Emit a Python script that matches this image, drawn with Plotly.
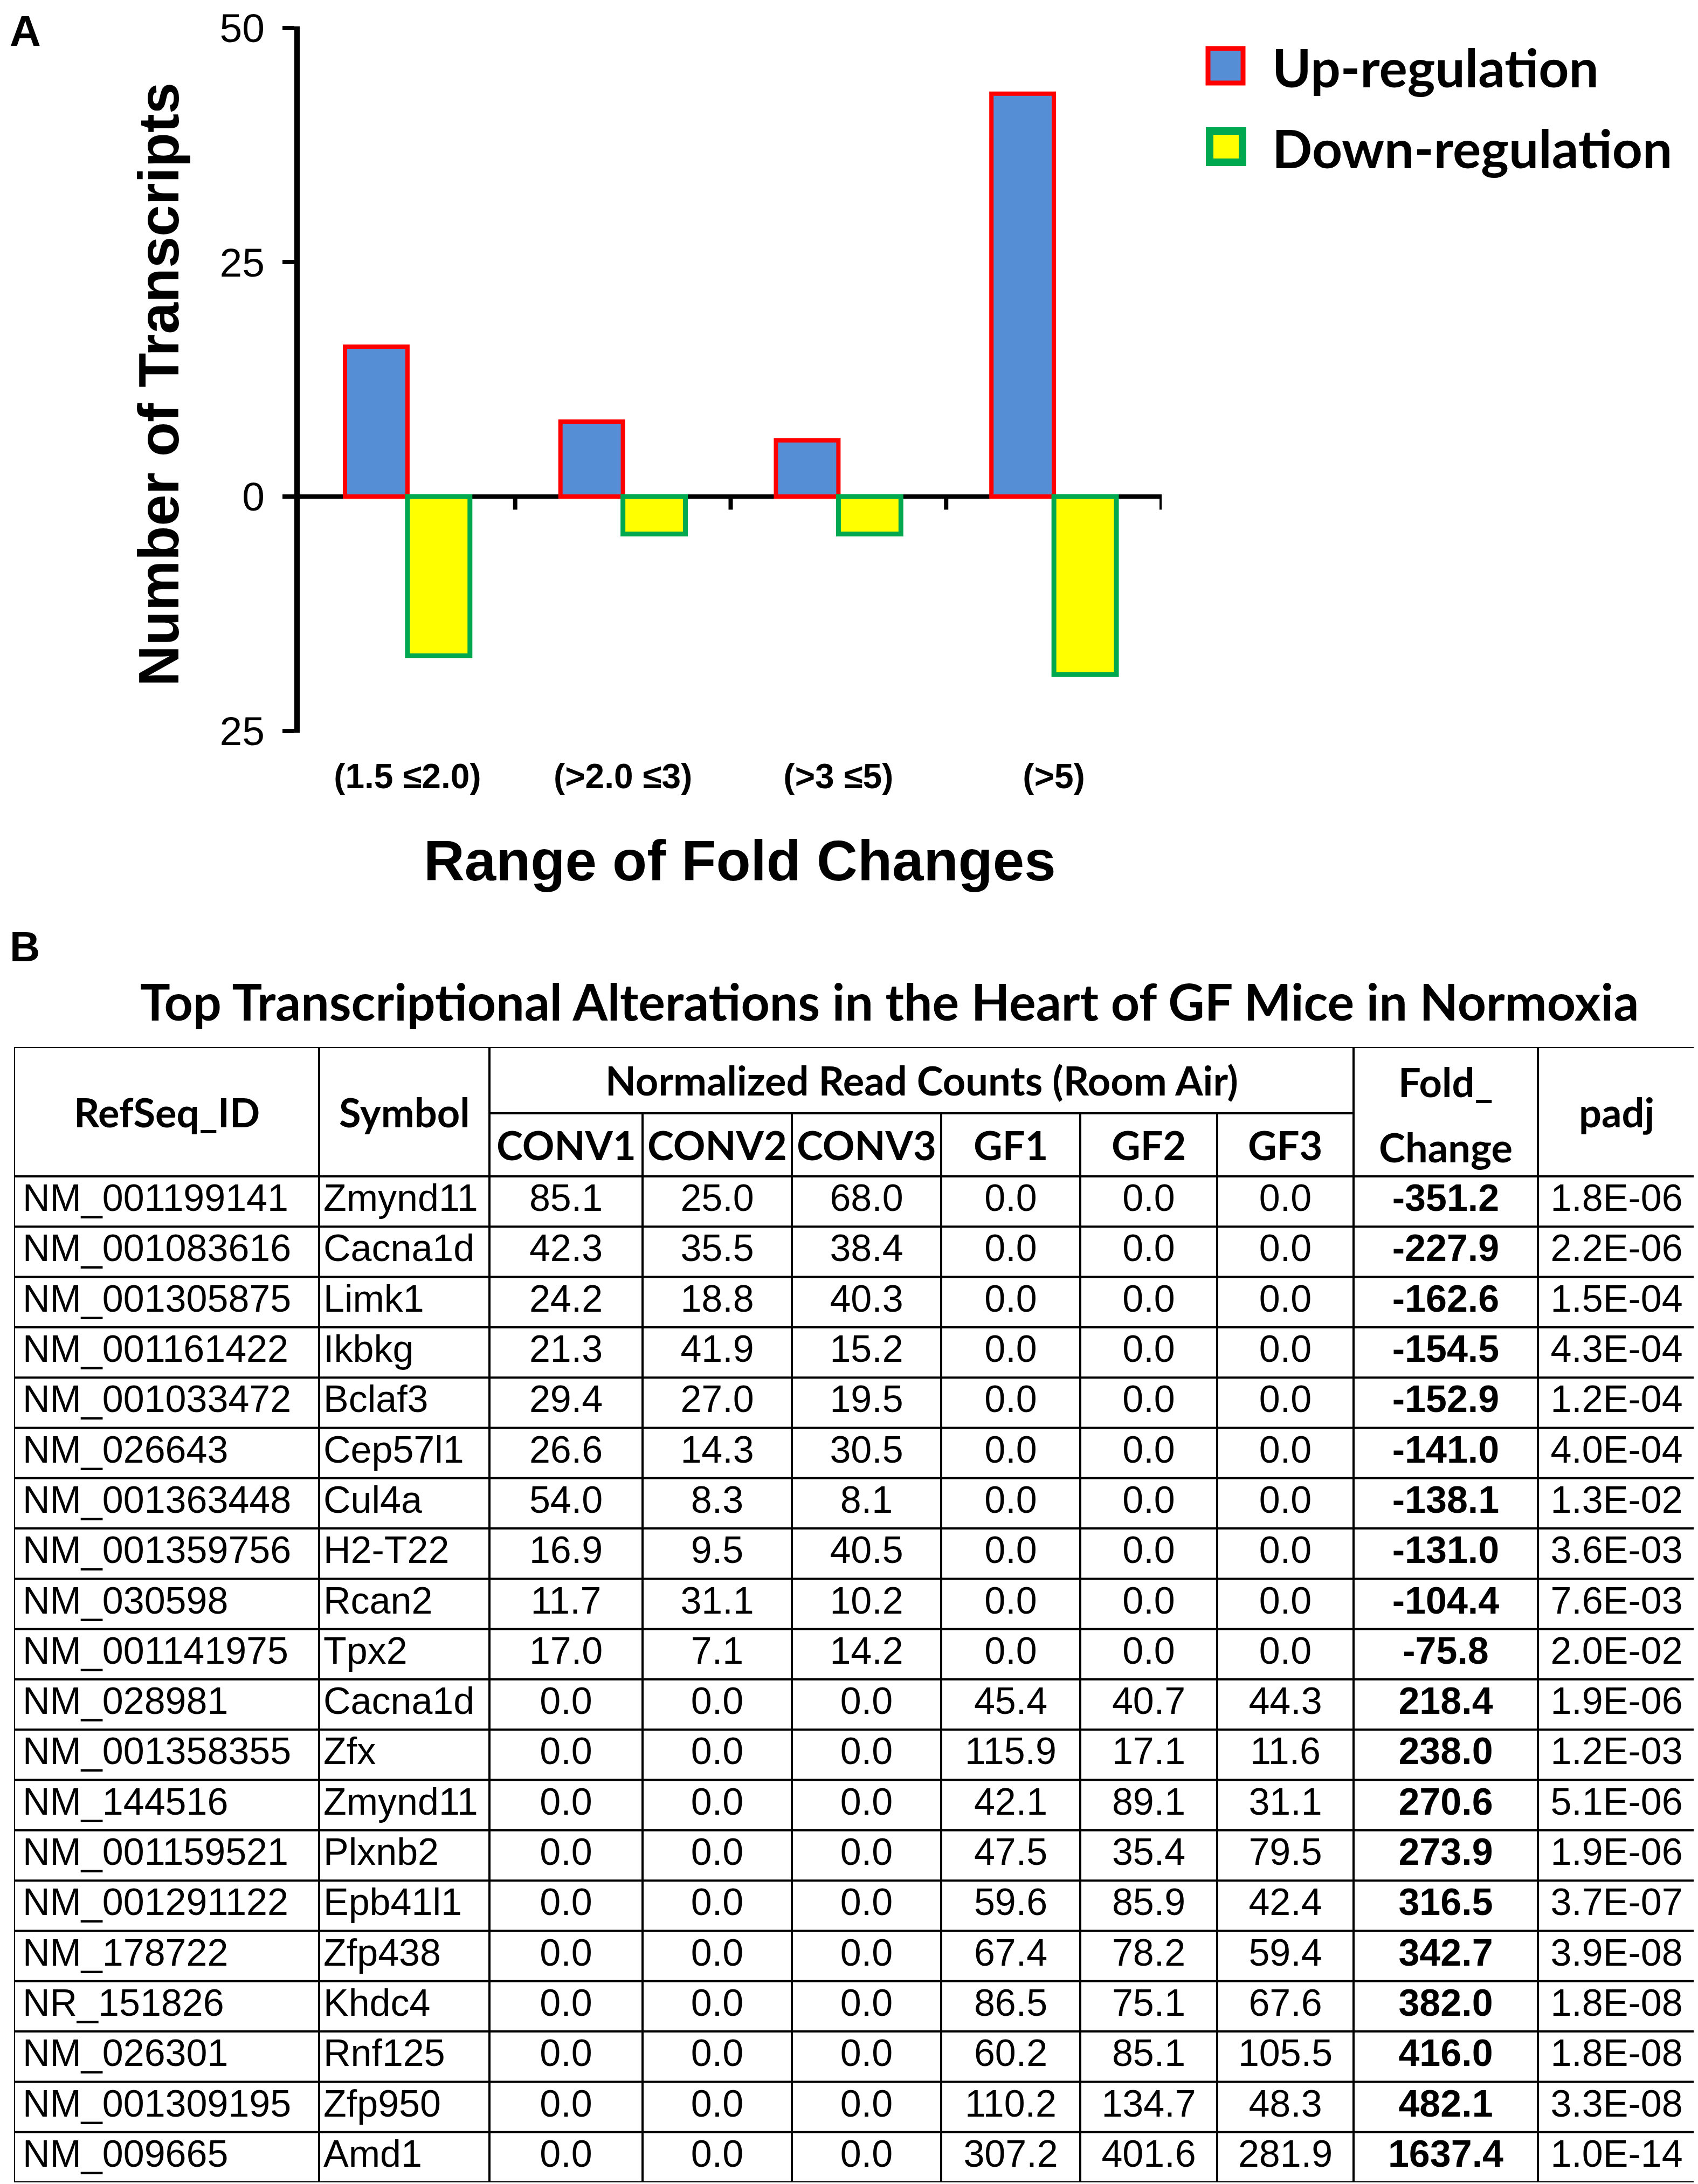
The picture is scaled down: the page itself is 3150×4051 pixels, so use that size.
import plotly.graph_objects as go

W, H = 3150, 4051

# ---- panel A data
categories = ["(1.5 ≤2.0)", "(>2.0 ≤3)", "(>3 ≤5)", "(>5)"]
up_counts = [16, 8, 6, 43]
down_counts = [-17, -4, -4, -19]
ytick_vals = [-25, 0, 25, 50]
ytick_text = ["25", "0", "25", "50"]

# ---- panel B data
col_names = ["RefSeq_ID", "Symbol", "CONV1", "CONV2", "CONV3", "GF1", "GF2", "GF3",
             "Fold_Change", "padj"]
refseq = ["NM_001199141", "NM_001083616", "NM_001305875", "NM_001161422", "NM_001033472",
          "NM_026643", "NM_001363448", "NM_001359756", "NM_030598", "NM_001141975",
          "NM_028981", "NM_001358355", "NM_144516", "NM_001159521", "NM_001291122",
          "NM_178722", "NR_151826", "NM_026301", "NM_001309195", "NM_009665"]
symbol = ["Zmynd11", "Cacna1d", "Limk1", "Ikbkg", "Bclaf3", "Cep57l1", "Cul4a", "H2-T22",
          "Rcan2", "Tpx2", "Cacna1d", "Zfx", "Zmynd11", "Plxnb2", "Epb41l1", "Zfp438",
          "Khdc4", "Rnf125", "Zfp950", "Amd1"]
conv1 = [85.1, 42.3, 24.2, 21.3, 29.4, 26.6, 54.0, 16.9, 11.7, 17.0,
         0.0, 0.0, 0.0, 0.0, 0.0, 0.0, 0.0, 0.0, 0.0, 0.0]
conv2 = [25.0, 35.5, 18.8, 41.9, 27.0, 14.3, 8.3, 9.5, 31.1, 7.1,
         0.0, 0.0, 0.0, 0.0, 0.0, 0.0, 0.0, 0.0, 0.0, 0.0]
conv3 = [68.0, 38.4, 40.3, 15.2, 19.5, 30.5, 8.1, 40.5, 10.2, 14.2,
         0.0, 0.0, 0.0, 0.0, 0.0, 0.0, 0.0, 0.0, 0.0, 0.0]
gf1 = [0.0, 0.0, 0.0, 0.0, 0.0, 0.0, 0.0, 0.0, 0.0, 0.0,
       45.4, 115.9, 42.1, 47.5, 59.6, 67.4, 86.5, 60.2, 110.2, 307.2]
gf2 = [0.0, 0.0, 0.0, 0.0, 0.0, 0.0, 0.0, 0.0, 0.0, 0.0,
       40.7, 17.1, 89.1, 35.4, 85.9, 78.2, 75.1, 85.1, 134.7, 401.6]
gf3 = [0.0, 0.0, 0.0, 0.0, 0.0, 0.0, 0.0, 0.0, 0.0, 0.0,
       44.3, 11.6, 31.1, 79.5, 42.4, 59.4, 67.6, 105.5, 48.3, 281.9]
fold_change = [-351.2, -227.9, -162.6, -154.5, -152.9, -141.0, -138.1, -131.0, -104.4, -75.8,
               218.4, 238.0, 270.6, 273.9, 316.5, 342.7, 382.0, 416.0, 482.1, 1637.4]
padj = [1.8e-06, 2.2e-06, 1.5e-04, 4.3e-04, 1.2e-04, 4.0e-04, 1.3e-02, 3.6e-03, 7.6e-03, 2.0e-02,
        1.9e-06, 1.2e-03, 5.1e-06, 1.9e-06, 3.7e-07, 3.9e-08, 1.8e-08, 1.8e-08, 3.3e-08, 1.0e-14]

AR = "Liberation Sans, Arial, sans-serif"
CAL = "Lato, Carlito, Calibri, sans-serif"
BLUE, RED, YEL, GRN = "#558ED5", "#FF0000", "#FFFF00", "#00A84F"


def px(x):
    return x / W


def py(y):
    return 1 - y / H


fig = go.Figure()

# ---------------- panel A
fig.add_trace(go.Bar(x=categories, y=up_counts, name="Up-regulation",
                     marker=dict(color=BLUE, line=dict(color=RED, width=8))))
fig.add_trace(go.Bar(x=categories, y=down_counts, name="Down-regulation",
                     marker=dict(color=YEL, line=dict(color=GRN, width=9))))

shapes = []
for i in range(len(categories)):
    shapes.append(dict(type="line", xref="x", yref="y", x0=i + 0.5, x1=i + 0.5,
                       y0=0, y1=-1.4, line=dict(color="black", width=8)))

# legend drawn by hand so the swatches are as large as in the original
shapes.append(dict(type="rect", xref="paper", yref="paper", x0=px(2233), x1=px(2298),
                   y0=py(146), y1=py(82), fillcolor=BLUE, line=dict(color=RED, width=9)))
shapes.append(dict(type="rect", xref="paper", yref="paper", x0=px(2236), x1=px(2297),
                   y0=py(293), y1=py(235), fillcolor=YEL, line=dict(color=GRN, width=14)))

annotations = [
    dict(text="<b>A</b>", x=px(8), y=py(50), xanchor="left", yanchor="middle",
         font=dict(family=AR, size=80, color="black")),
    dict(text="<b>B</b>", x=px(8), y=py(1748), xanchor="left", yanchor="middle",
         font=dict(family=AR, size=78, color="black")),
    dict(text="<b>Number of Transcripts</b>", x=px(286), y=py(705), textangle=-90,
         xanchor="center", yanchor="middle", font=dict(family=AR, size=105, color="black")),
    dict(text="<b>Range of Fold Changes</b>", x=px(1364), y=py(1588),
         xanchor="center", yanchor="middle", font=dict(family=AR, size=105, color="black")),
    dict(text="<b>Up-regulation</b>", x=px(2350), y=py(116), xanchor="left", yanchor="middle",
         font=dict(family=CAL, size=98, color="black")),
    dict(text="<b>Down-regulation</b>", x=px(2350), y=py(266), xanchor="left", yanchor="middle",
         font=dict(family=CAL, size=98, color="black")),
    dict(text="<b>Top Transcriptional Alterations in the Heart of GF Mice in Normoxia</b>",
         x=px(1642), y=py(1849), xanchor="center", yanchor="middle",
         font=dict(family=CAL, size=93, color="black")),
]

# ---------------- panel B (table on its own axes, x in px-width units, y in rows)
col_w = [566, 316, 284, 277, 277, 258, 254, 253, 342, 292]
bounds = [0]
for w in col_w:
    bounds.append(bounds[-1] + w)
total_w = bounds[-1]
row_px = 93.3
hdr = 240 / row_px
sub = 117 / row_px
n = len(refseq)

centers = [(bounds[j] + bounds[j + 1]) / 2 for j in range(len(col_w))]
ys = [i + 0.5 for i in range(n)]

body_font = dict(family=AR, size=70, color="black")
fig.add_trace(go.Scatter(x=[bounds[0] + 16] * n, y=ys, text=refseq, mode="text",
                         textposition="middle right", textfont=body_font,
                         xaxis="x3", yaxis="y3"))
fig.add_trace(go.Scatter(x=[bounds[1] + 8] * n, y=ys, text=symbol, mode="text",
                         textposition="middle right", textfont=body_font,
                         xaxis="x3", yaxis="y3"))
for j, col in zip(range(2, 8), [conv1, conv2, conv3, gf1, gf2, gf3]):
    fig.add_trace(go.Scatter(x=[centers[j]] * n, y=ys, text=[f"{v:.1f}" for v in col],
                             mode="text", textposition="middle center", textfont=body_font,
                             xaxis="x3", yaxis="y3"))
fig.add_trace(go.Scatter(x=[centers[8]] * n, y=ys, text=[f"{v:.1f}" for v in fold_change],
                         mode="text", textposition="middle center",
                         textfont=dict(family=AR, size=70, color="black", weight="bold"),
                         xaxis="x3", yaxis="y3"))
fig.add_trace(go.Scatter(x=[centers[9]] * n, y=ys, text=[f"{v:.1E}" for v in padj],
                         mode="text", textposition="middle center", textfont=body_font,
                         xaxis="x3", yaxis="y3"))

# grid lines
lw = 4
tl = dict(color="black", width=lw)
shapes.append(dict(type="rect", xref="x3", yref="y3", x0=0, x1=total_w, y0=-hdr, y1=n, line=tl))
for i in range(n):
    shapes.append(dict(type="line", xref="x3", yref="y3", x0=0, x1=total_w, y0=i, y1=i, line=tl))
shapes.append(dict(type="line", xref="x3", yref="y3", x0=bounds[2], x1=bounds[8],
                   y0=-sub, y1=-sub, line=tl))
for j in range(1, len(col_w)):
    top = -sub if 3 <= j <= 7 else -hdr
    shapes.append(dict(type="line", xref="x3", yref="y3", x0=bounds[j], x1=bounds[j],
                       y0=top, y1=n, line=tl))

hfont = dict(family=CAL, size=74, color="black")
head_ann = [
    ("RefSeq_ID", centers[0], -hdr / 2),
    ("Symbol", centers[1], -hdr / 2),
    ("Normalized Read Counts (Room Air)", (bounds[2] + bounds[8]) / 2, -(hdr + sub) / 2),
    ("Fold_", centers[8], -1.88),
    ("Change", centers[8], -0.58),
    ("padj", centers[9], -hdr / 2),
]
for j in range(2, 8):
    head_ann.append((col_names[j], centers[j], -sub / 2))
for t, x, y in head_ann:
    annotations.append(dict(text=f"<b>{t}</b>", x=x, y=y, xref="x3", yref="y3",
                            xanchor="center", yanchor="middle", showarrow=False, font=hfont))

for a in annotations:
    a.setdefault("showarrow", False)
    a.setdefault("xref", "paper")
    a.setdefault("yref", "paper")

fig.update_layout(
    width=W, height=H,
    margin=dict(l=0, r=0, t=0, b=0, autoexpand=False),
    paper_bgcolor="white", plot_bgcolor="white",
    showlegend=False,
    barmode="group", bargap=0.42, bargroupgap=0,
    xaxis=dict(domain=[px(548), px(2147)], range=[-0.5, 3.5], anchor="y", automargin=False,
               showline=False, showgrid=False, zeroline=False, ticks="",
               ticklabelstandoff=38,
               tickfont=dict(family=AR, size=64, color="black", weight="bold")),
    yaxis=dict(domain=[py(1351), py(40.5)], range=[-25.2, 50.2], anchor="x", automargin=False,
               tickvals=ytick_vals, ticktext=ytick_text,
               showline=True, linewidth=10, linecolor="black", mirror=False,
               ticks="outside", ticklen=22, tickwidth=8, tickcolor="black",
               ticklabelstandoff=18, ticklabeloverflow="allow",
               showgrid=False, zeroline=True, zerolinecolor="black", zerolinewidth=8,
               tickfont=dict(family=AR, size=75, color="black")),
    xaxis3=dict(domain=[px(18), px(3137)], range=[0, total_w], anchor="y3", visible=False,
                automargin=False),
    yaxis3=dict(domain=[py(4040), py(1934)], range=[n, -hdr], anchor="x3", visible=False,
                automargin=False),
    shapes=shapes,
    annotations=annotations,
)

fig.write_html("out.html")
